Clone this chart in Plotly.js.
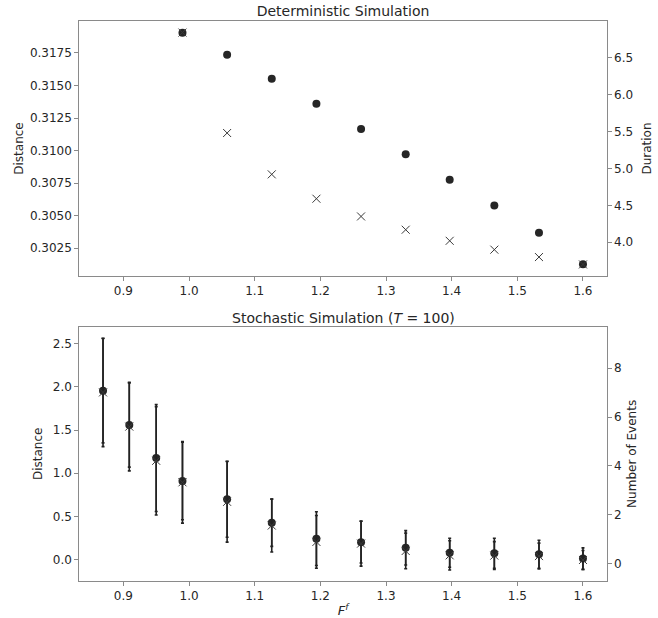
<!DOCTYPE html>
<html>
<head>
<meta charset="utf-8">
<script src="https://cdn.plot.ly/plotly-3.0.1.min.js"></script>
<style>html,body{margin:0;padding:0;background:#fff;}#chart{width:658px;height:618px;}</style>
</head>
<body>
<div id="chart"></div>
<script>
// Deterministic simulation
const ffDet = [0.990, 1.058, 1.126, 1.194, 1.262, 1.330, 1.397, 1.465, 1.533, 1.600];
const detDistance = [0.31906, 0.31737, 0.31552, 0.31360, 0.31165, 0.30971, 0.30775, 0.30578, 0.30368, 0.30125];
const detDuration = [6.84, 5.48, 4.92, 4.59, 4.35, 4.17, 4.02, 3.90, 3.80, 3.70];

// Stochastic simulation (T = 100)
const ffStoch = [0.869, 0.909, 0.950, 0.990, 1.058, 1.126, 1.194, 1.262, 1.330, 1.397, 1.465, 1.533, 1.600];
const stochDistance = [1.956, 1.559, 1.177, 0.911, 0.699, 0.428, 0.243, 0.203, 0.137, 0.080, 0.074, 0.063, 0.012];
const stochDistanceErr = [0.604, 0.488, 0.619, 0.449, 0.440, 0.274, 0.311, 0.241, 0.199, 0.168, 0.174, 0.162, 0.124];
const stochEvents = [7.01, 5.61, 4.21, 3.33, 2.53, 1.56, 0.89, 0.82, 0.52, 0.34, 0.33, 0.31, 0.15];
const stochEventsErr = [2.22, 1.81, 2.22, 1.67, 1.65, 1.08, 1.08, 0.92, 0.73, 0.60, 0.57, 0.53, 0.39];

const xTicks = [0.9, 1.0, 1.1, 1.2, 1.3, 1.4, 1.5, 1.6];

const FONT = 'DejaVu Sans, sans-serif';
const DARK = '#262626';
const SPINE = '#8a8a8a';

const circle = {symbol: 'circle', size: 8, color: '#262626', line: {width: 0}};
const cross = {symbol: 'x-thin-open', size: 8, color: '#3a3a3a', line: {color: '#3a3a3a', width: 1}};

const traces = [
  {x: ffDet, y: detDistance, xaxis: 'x', yaxis: 'y', mode: 'markers', type: 'scatter', marker: circle},
  {x: ffDet, y: detDuration, xaxis: 'x', yaxis: 'y2', mode: 'markers', type: 'scatter', marker: cross},
  {x: ffStoch, y: stochDistance, xaxis: 'x2', yaxis: 'y3', mode: 'markers', type: 'scatter', marker: circle,
   error_y: {type: 'data', array: stochDistanceErr, visible: true, color: '#222', thickness: 1.6, width: 1.5}},
  {x: ffStoch, y: stochEvents, xaxis: 'x2', yaxis: 'y4', mode: 'markers', type: 'scatter', marker: cross,
   error_y: {type: 'data', array: stochEventsErr, visible: true, color: '#222', thickness: 1.6, width: 1.5}}
];

const axBase = {
  showline: true, linecolor: SPINE, linewidth: 1.2, showgrid: false, zeroline: false,
  ticks: 'outside', ticklen: 3.5, tickwidth: 1, tickcolor: SPINE,
  tickfont: {family: FONT, size: 12, color: DARK}
};
const xRange = [0.8324, 1.6366];
const titleFont = {family: FONT, size: 12, color: DARK};
const xDom = [0, (607 - 79) / (658 - 79)];

const layout = {
  width: 658, height: 618,
  margin: {l: 79, r: 0, t: 21, b: 37},
  paper_bgcolor: '#fff', plot_bgcolor: '#fff',
  showlegend: false,
  font: {family: FONT, color: DARK},
  title: {text: 'Deterministic Simulation', font: {family: FONT, size: 14, color: DARK},
          x: (79 + 607) / 2 / 658, xanchor: 'center', y: 1 - 11 / 618, yanchor: 'middle', yref: 'container'},
  xaxis: Object.assign({}, axBase, {domain: xDom, range: xRange, anchor: 'y', tickvals: xTicks, ticktext: xTicks.map(v => v.toFixed(1)), mirror: true}),
  yaxis: Object.assign({}, axBase, {domain: [0.5446, 1], range: [0.30035, 0.31996], dtick: 0.0025, tick0: 0.3, tickformat: '.4f', anchor: 'x',
          automargin: true, title: {text: 'Distance', font: titleFont, standoff: 3}}),
  yaxis2: Object.assign({}, axBase, {overlaying: 'y', side: 'right', anchor: 'x', range: [3.543, 6.997], dtick: 0.5, tick0: 0, tickformat: '.1f',
          automargin: true, title: {text: 'Duration', font: titleFont, standoff: 10}}),
  xaxis2: Object.assign({}, axBase, {domain: xDom, range: xRange, anchor: 'y3', tickvals: xTicks, ticktext: xTicks.map(v => v.toFixed(1)), mirror: true,
          title: {text: '<i>F</i><sup><i>f</i></sup>', font: {family: FONT, size: 13, color: DARK}, standoff: 8}}),
  yaxis3: Object.assign({}, axBase, {domain: [0, 0.4541], range: [-0.247, 2.697], dtick: 0.5, tick0: 0, tickformat: '.1f', anchor: 'x2',
          automargin: true, title: {text: 'Distance', font: titleFont, standoff: 7}}),
  yaxis4: Object.assign({}, axBase, {overlaying: 'y3', side: 'right', anchor: 'x2', range: [-0.71, 9.70], dtick: 2, tick0: 0,
          automargin: true, title: {text: 'Number of Events', font: titleFont, standoff: 6}}),
  annotations: [
    {text: 'Stochastic Simulation (<i>T</i> = 100)', xref: 'paper', yref: 'paper', x: xDom[1] / 2, y: (581 - 318) / 560,
     xanchor: 'center', yanchor: 'middle', showarrow: false, font: {family: FONT, size: 14, color: DARK}}
  ]
};

Plotly.newPlot('chart', traces, layout, {staticPlot: true, displayModeBar: false});
</script>
</body>
</html>
